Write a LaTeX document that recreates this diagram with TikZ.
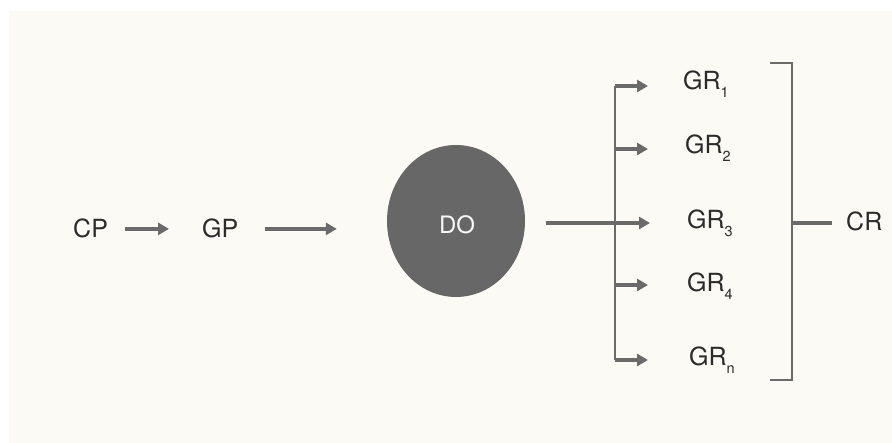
\documentclass[tikz,border=0pt]{standalone}
\usepackage{fontspec}
\setmainfont{TeX Gyre Heros}
\usetikzlibrary{arrows.meta,shapes.geometric}
\definecolor{paper}{HTML}{FBFAF5}
\definecolor{ink}{HTML}{6A6A6A}
\definecolor{txt}{HTML}{2B2B2B}
\definecolor{blob}{HTML}{676767}
\newcommand{\gsub}[1]{\raisebox{-8pt}{\fontsize{14.5}{15}\selectfont #1}}
\begin{document}
\begin{tikzpicture}[x=1pt,y=-1pt,
  lbl/.style={text=txt,font=\fontsize{25}{27}\selectfont,inner sep=0pt,anchor=base west},
  conn/.style={draw=ink,line width=3.4pt,-{Triangle[length=11pt,width=12pt]}},
  brk/.style={draw=ink,line width=2.8pt},
  blobnode/.style={ellipse,fill=blob,minimum width=138pt,minimum height=152pt,inner sep=0pt}]
\fill[white] (0,0) rectangle (892,443);
\fill[paper] (9,11) rectangle (892,443);
\useasboundingbox (0,0) rectangle (892,443);
% nodes
\node[lbl] (CP) at (73,238) {CP};
\node[lbl] (GP) at (202,238) {GP};
\node[blobnode] (DO) at (456,221) {};
\node[text=gray!6,font=\fontsize{24}{26}\selectfont,inner sep=0pt] (DOtxt) at (457,225) {DO};
\node[lbl] (GR1) at (683,90) {GR\gsub{1}};
\node[lbl] (GR2) at (685,154) {GR\gsub{2}};
\node[lbl] (GR3) at (687,229) {GR\gsub{3}};
\node[lbl] (GR4) at (687,292) {GR\gsub{4}};
\node[lbl] (GRn) at (689,366) {GR\gsub{n}};
\node[lbl] (CR) at (846,231) {CR};
% bracket coordinates
\coordinate (b1) at (615,86);
\coordinate (b2) at (615,149);
\coordinate (b3) at (615,223);
\coordinate (b4) at (615,285);
\coordinate (b5) at (615,360);
\coordinate (r1) at (770,63);
\coordinate (r2) at (792,63);
\coordinate (r3) at (792,380);
\coordinate (r4) at (770,380);
\coordinate (rm) at (792,223);
% connectors
\draw[conn,shorten <=17pt,shorten >=33pt] (CP.east) -- (GP.west);
\draw[conn,shorten <=26pt,shorten >=50pt] (GP.east) -- (GP.east -| DO.west);
\draw[conn,shorten <=21pt,shorten >=37pt] (DO.east |- b3) -- (b3 -| GR3.west);
\draw[brk] (b1) -- (b5);
\draw[conn,shorten >=35pt] (b1) -- (b1 -| GR1.west);
\draw[conn,shorten >=37pt] (b2) -- (b2 -| GR2.west);
\draw[conn,shorten >=39pt] (b4) -- (b4 -| GR4.west);
\draw[conn,shorten >=41pt] (b5) -- (b5 -| GRn.west);
\draw[brk] (r1) -- (r2) -- (r3) -- (r4);
\draw[brk,line width=3.2pt,shorten >=14pt] (rm) -- (rm -| CR.west);
\end{tikzpicture}
\end{document}
